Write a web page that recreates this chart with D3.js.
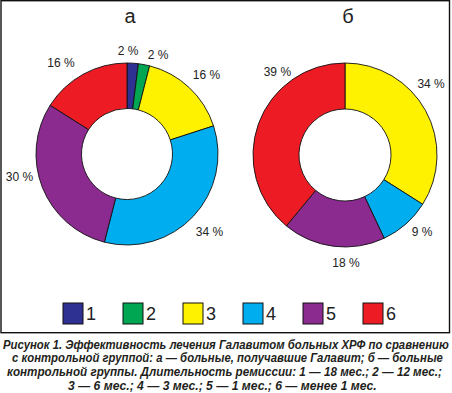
<!DOCTYPE html>
<html>
<head>
<meta charset="utf-8">
<script src="https://cdn.jsdelivr.net/npm/d3@7"></script>
<style>
    body { margin: 0; background: #fff; }
    svg { display: block; }
</style>
</head>
<body>
<div id="chart"></div>
<script>
    // Data
    var categories = ['1', '2', '3', '4', '5', '6'];
    var seriesA = [2, 2, 16, 34, 30, 16];   // а — больные, получавшие Галавит
    var seriesB = [0, 0, 34, 9, 18, 39];    // б — контрольная группа
    var panelTitles = ['а', 'б'];
    var captionLines = [
        'Рисунок 1. Эффективность лечения Галавитом больных ХРФ по сравнению',
        'с контрольной группой: а — больные, получавшие Галавит; б — больные',
        'контрольной группы. Длительность ремиссии: 1 — 18 мес.; 2 — 12 мес.;',
        '3 — 6 мес.; 4 — 3 мес.; 5 — 1 мес.; 6 — менее 1 мес.'
    ];

    // Layout
    var width = 452, height = 393;
    var colors = ['#2e3192', '#00a651', '#fff200', '#00aeef', '#8b2a8f', '#ed1c24'];
    var panels = [
        { title: panelTitles[0], values: seriesA, cx: 127, cy: 154, r: 91,
          // label nudges: [angle shift in degrees, label radius]
          nudge: [[-3, 103], [6.6, 104], [2, 112], [0, 113], [9.6, 110], [-7, 113]] },
        { title: panelTitles[1], values: seriesB, cx: 345, cy: 155, r: 92,
          nudge: [[0, 110], [0, 110], [-11, 112], [-3.6, 109], [-7.7, 108], [31, 107]] }
    ];
    // left / right edge of each caption line
    var captionBox = [[3, 449], [12, 443], [7, 442], [68, 377]];

    var svg = d3.select('#chart').append('svg')
        .attr('width', width)
        .attr('height', height);

    // Frame
    svg.append('rect')
        .attr('x', 1).attr('y', 0.7)
        .attr('width', 448.5).attr('height', 332)
        .attr('fill', 'none')
        .attr('stroke', '#111')
        .attr('stroke-width', 1.4);

    var pie = d3.pie().sort(null).value(function(d) { return d; });

    panels.forEach(function(p) {
        var g = svg.append('g')
            .attr('transform', 'translate(' + p.cx + ',' + p.cy + ')');

        var arc = d3.arc().innerRadius(p.r * 0.5).outerRadius(p.r);
        var arcs = pie(p.values);

        g.selectAll('path')
            .data(arcs.filter(function(d) { return d.value > 0; }))
            .enter().append('path')
            .attr('d', arc)
            .attr('fill', function(d) { return colors[d.index]; })
            .attr('stroke', '#111')
            .attr('stroke-width', 0.9);

        // Slice labels
        g.selectAll('text.lbl')
            .data(arcs.filter(function(d) { return d.value > 0; }))
            .enter().append('text')
            .attr('class', 'lbl')
            .attr('transform', function(d) {
                var n = p.nudge[d.index];
                var a = (d.startAngle + d.endAngle) / 2 + n[0] * Math.PI / 180;
                return 'translate(' + (Math.sin(a) * n[1]) + ',' + (-Math.cos(a) * n[1]) + ')';
            })
            .attr('text-anchor', 'middle')
            .attr('dy', '0.35em')
            .style('font-family', '"Liberation Sans", Arial, sans-serif')
            .style('font-size', '12px')
            .style('fill', '#222')
            .text(function(d) { return d.value + ' %'; });

        // Panel title
        svg.append('text')
            .attr('x', p.cx + 3).attr('y', 23)
            .attr('text-anchor', 'middle')
            .style('font-family', '"Liberation Sans", Arial, sans-serif')
            .style('font-size', '20px')
            .style('fill', '#222')
            .text(p.title);
    });

    // Legend
    var legendX = d3.scalePoint().domain(categories).range([63, 363]);
    var leg = svg.append('g').selectAll('g')
        .data(categories)
        .enter().append('g')
        .attr('transform', function(d) { return 'translate(' + legendX(d) + ',303)'; });
    leg.append('rect')
        .attr('width', 20).attr('height', 21)
        .attr('fill', function(d, i) { return colors[i]; })
        .attr('stroke', '#111')
        .attr('stroke-width', 1);
    leg.append('text')
        .attr('x', 23).attr('y', 17)
        .style('font-family', '"Liberation Sans", Arial, sans-serif')
        .style('font-size', '18px')
        .style('fill', '#222')
        .text(function(d) { return d; });

    // Caption: condensed by a horizontal scale so each line fits its width
    var capG = svg.append('g').selectAll('g')
        .data(captionLines)
        .enter().append('g');
    capG.append('text')
        .attr('x', 0).attr('y', 0)
        .style('font-family', '"Liberation Sans", Arial, sans-serif')
        .style('font-size', '12.4px')
        .style('font-weight', 'bold')
        .style('font-style', 'italic')
        .style('fill', '#231f20')
        .text(function(d) { return d; });
    capG.attr('transform', function(d, i) {
        var w = d3.select(this).select('text').node().getComputedTextLength();
        var sx = (captionBox[i][1] - captionBox[i][0]) / w;
        return 'translate(' + captionBox[i][0] + ',' + (348.5 + i * 13.9) + ') scale(' + sx + ',1)';
    });
</script>
</body>
</html>
